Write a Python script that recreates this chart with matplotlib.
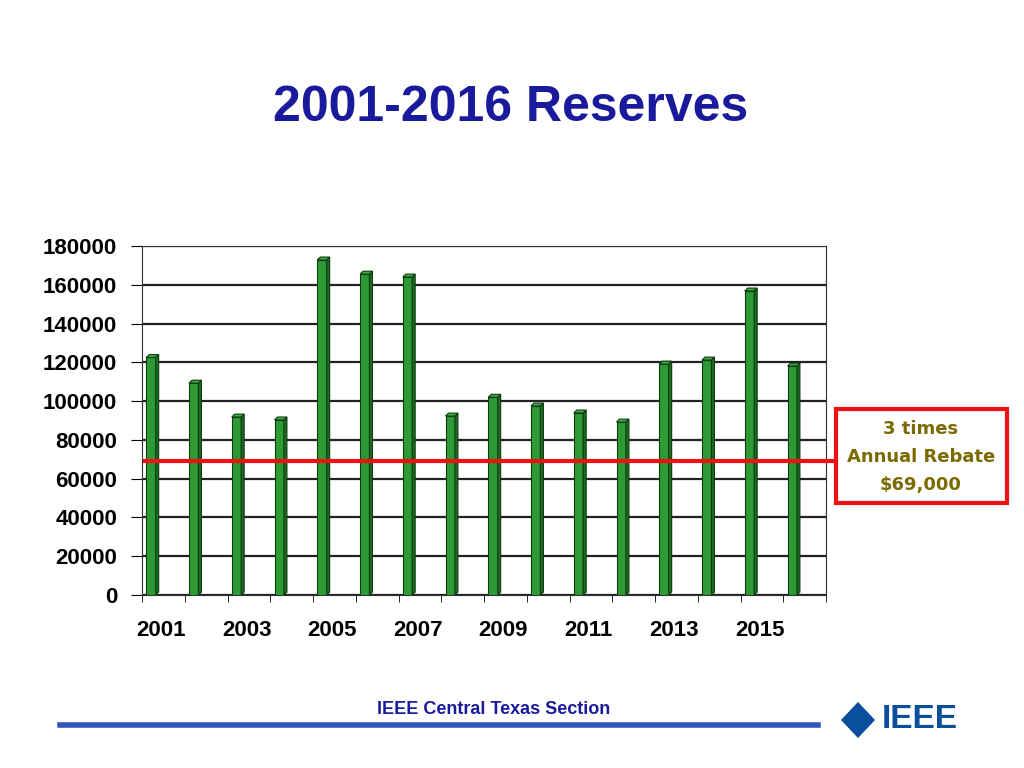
import matplotlib
matplotlib.use("Agg")
import matplotlib.pyplot as plt
from matplotlib.patches import Rectangle, Polygon

years = list(range(2001, 2017))
reserves = [122500, 109300, 91800, 90300, 172800, 165500, 164000, 92300,
            102000, 97500, 93900, 89200, 119100, 121200, 156800, 118100]
tick_labels = ["2001", "2003", "2005", "2007", "2009", "2011", "2013", "2015"]
rebate = 69000

fig = plt.figure(figsize=(10.24, 7.68), dpi=100)
fig.text(511/1024, 1-108/768, "2001-2016 Reserves", ha="center", va="center",
         fontsize=36, fontweight="bold", color="#1a1a9c", family="Liberation Sans")

ax = fig.add_axes([142/1024, 1-595/768, (826-142)/1024, (595-246)/768])
ax.set_xlim(0, 16)
ax.set_ylim(0, 180000)
ax.set_yticks(range(0, 180001, 20000))
ax.yaxis.grid(True, color="#222222", lw=1.6)
ax.set_axisbelow(True)
ax.set_xticks([i for i in range(0, 17)], minor=True)
ax.set_xticks([i*2 + 0.45 for i in range(8)])
ax.set_xticklabels(tick_labels)
ax.tick_params(axis="x", which="major", length=0, pad=18)
ax.tick_params(axis="x", which="minor", length=5)
ax.tick_params(axis="y", length=8, pad=10)
for lab in ax.get_xticklabels() + ax.get_yticklabels():
    lab.set_fontsize(16); lab.set_fontweight("bold"); lab.set_family("Liberation Sans")
for s in ax.spines.values():
    s.set_color("#333333")

w = 0.22
dx, dy = 0.07, 1500
for i, v in enumerate(reserves):
    x0 = i + 0.1
    ax.add_patch(Rectangle((x0, 0), w, v, facecolor="#2e9a35", edgecolor="#0d3a10", lw=0.8, zorder=3))
    ax.add_patch(Polygon([(x0+w, 0), (x0+w+dx, dy), (x0+w+dx, v+dy), (x0+w, v)],
                         facecolor="#1d6b22", edgecolor="#0d3a10", lw=0.8, zorder=3))
    ax.add_patch(Polygon([(x0, v), (x0+dx, v+dy), (x0+w+dx, v+dy), (x0+w, v)],
                         facecolor="#3fb046", edgecolor="#0d3a10", lw=0.8, zorder=3))

ax.plot([0.07, 16.2], [rebate, rebate], color="#ee1111", lw=3, zorder=5, clip_on=False)

fig.patches.append(Rectangle((836/1024, 1-503/768), 171/1024, 94/768, transform=fig.transFigure,
                             fill=False, edgecolor="#ee1111", lw=3))
fig.text(921/1024, 1-457/768, "3 times\nAnnual Rebate\n$69,000", ha="center", va="center",
         fontsize=13, fontweight="bold", color="#7a6a00", linespacing=1.7, family="DejaVu Sans")

fig.text(494/1024, 1-709/768, "IEEE Central Texas Section", ha="center", va="center",
         fontsize=13, fontweight="bold", color="#1a1a9c", family="Liberation Sans")
fig.add_artist(plt.Line2D([60/1024, 818/1024], [1-725/768]*2, color="#3355bb", lw=4))
fig.text(920/1024, 1-720/768, "IEEE", ha="center", va="center",
         fontsize=24, fontweight="bold", color="#0a4f9c", family="Liberation Sans")
fig.patches.append(Polygon([(858/1024, 1-702/768), (875/1024, 1-720/768), (858/1024, 1-738/768),
                            (841/1024, 1-720/768)], closed=True, transform=fig.transFigure,
                           facecolor="#0a4f9c"))
fig.savefig("out.png", dpi=100)
